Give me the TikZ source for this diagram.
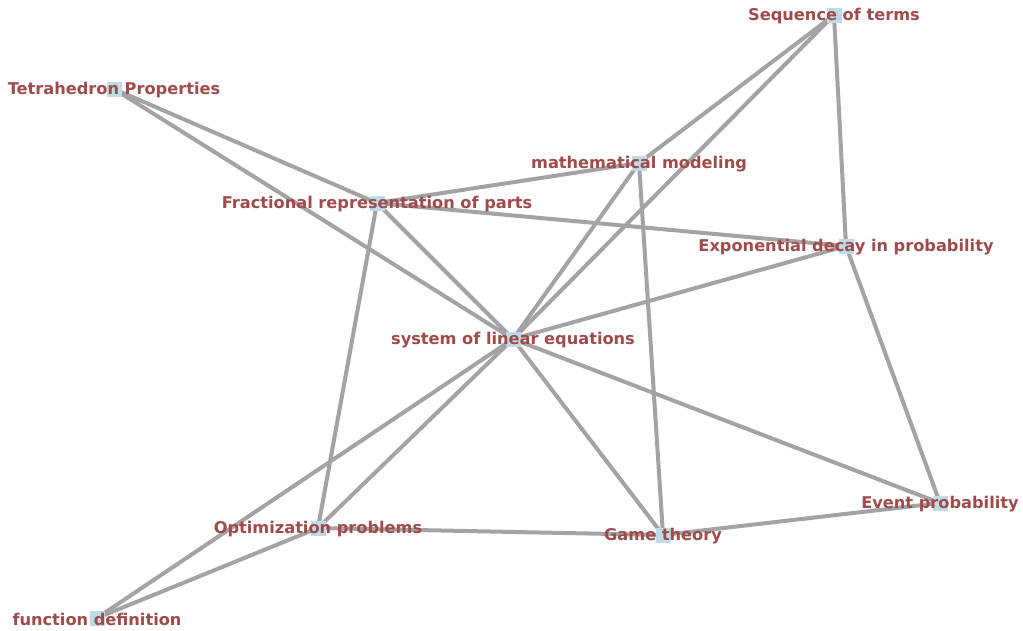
\documentclass[tikz,border=0pt]{standalone}
\usepackage{fontspec}
\setmainfont{DejaVu Sans}
\definecolor{lbl}{RGB}{160,74,74}
\definecolor{edg}{RGB}{164,162,162}
\definecolor{mk}{RGB}{190,220,232}
\begin{document}
\begin{tikzpicture}[x=1pt,y=-1pt,
  nd/.style={fill=mk,minimum size=15pt,inner sep=0pt,draw=none},
  lab/.style={text=lbl,font=\bfseries\fontsize{16.2}{18}\selectfont,inner sep=0pt,yshift=-1.5pt},
  edge/.style={draw=edg,line width=4pt}]
\useasboundingbox (0,0) rectangle (1023,630);
\coordinate (seq) at (834,15);
\coordinate (tet) at (114,89);
\coordinate (mm) at (639,163);
\coordinate (fr) at (377,203);
\coordinate (exp) at (846,246);
\coordinate (sys) at (513,339);
\coordinate (ev) at (940,503);
\coordinate (opt) at (318,528);
\coordinate (gt) at (663,535);
\coordinate (fd) at (97,618);
\foreach \a/\b in {seq/mm,seq/sys,seq/exp,tet/fr,tet/sys,fr/mm,fr/exp,fr/sys,fr/opt,mm/sys,mm/gt,exp/sys,exp/ev,sys/ev,sys/gt,sys/opt,sys/fd,opt/gt,opt/fd,gt/ev}
  \draw[edge] (\a) -- (\b);
\foreach \n in {seq,tet,mm,fr,exp,sys,ev,opt,gt,fd}
  \node[nd] (\n-m) at (\n) {};
\node[lab] (seq-l) at (seq) {Sequence of terms};
\node[lab] (tet-l) at (tet) {Tetrahedron Properties};
\node[lab] (mm-l) at (mm) {mathematical modeling};
\node[lab] (fr-l) at (fr) {Fractional representation of parts};
\node[lab] (exp-l) at (exp) {Exponential decay in probability};
\node[lab] (sys-l) at (sys) {system of linear equations};
\node[lab] (ev-l) at (ev) {Event probability};
\node[lab] (opt-l) at (opt) {Optimization problems};
\node[lab] (gt-l) at (gt) {Game theory};
\node[lab] (fd-l) at (fd) {function definition};
\end{tikzpicture}
\end{document}
